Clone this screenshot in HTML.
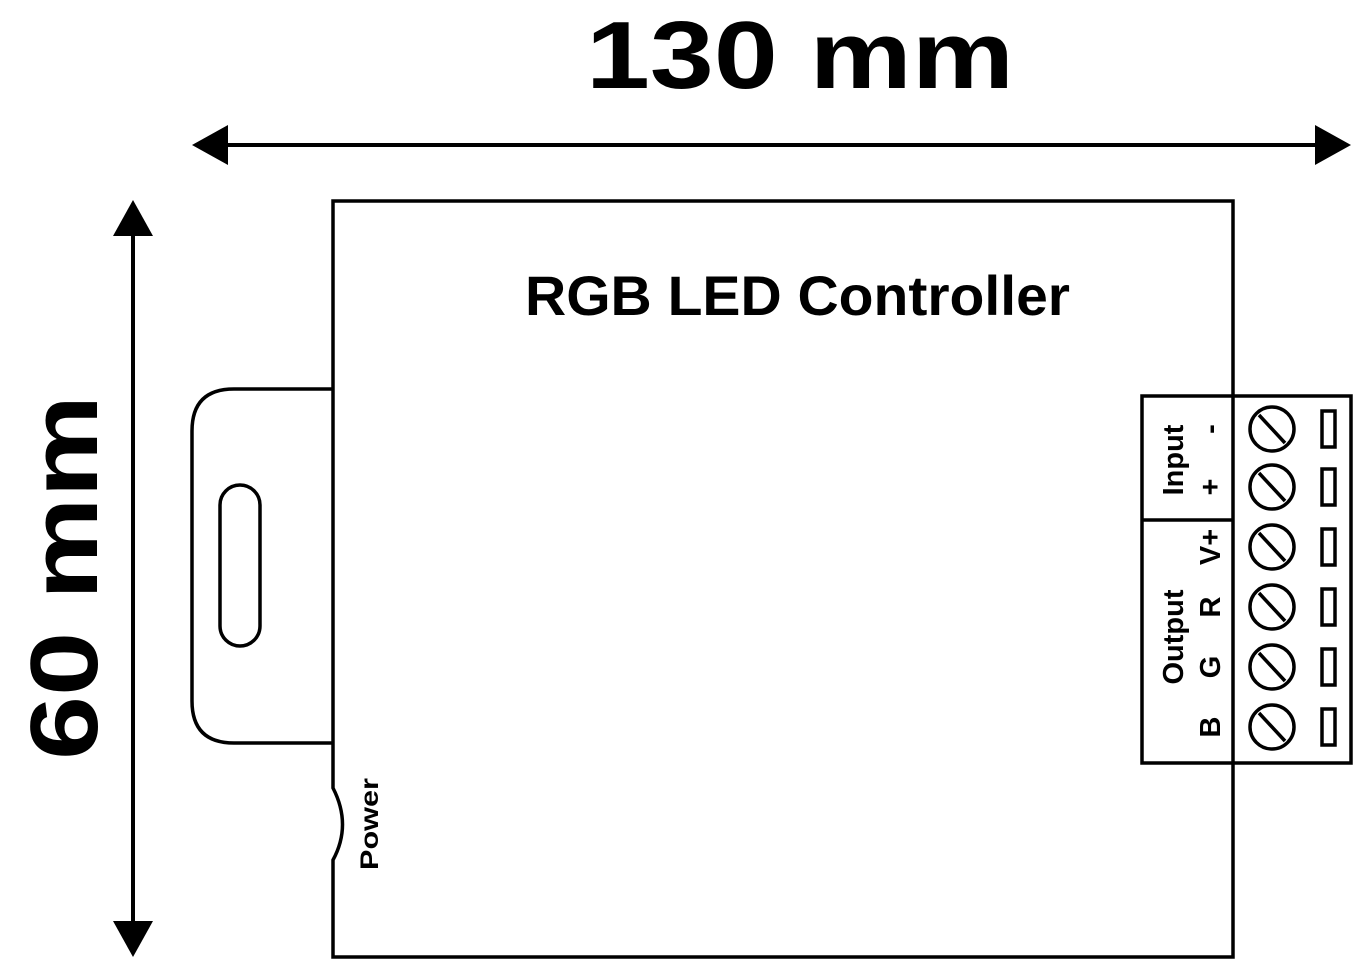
<!DOCTYPE html>
<html><head><style>
html,body{margin:0;padding:0;background:#fff;}
svg{display:block;}
text{font-family:"Liberation Sans",sans-serif;font-weight:bold;fill:#000;}
</style></head><body>
<svg width="1363" height="970" viewBox="0 0 1363 970" xmlns="http://www.w3.org/2000/svg">
<g stroke="#000" stroke-width="3.5" fill="none">
<line x1="220" y1="145" x2="1320" y2="145" stroke-width="4"/>
<line x1="133" y1="232" x2="133" y2="925" stroke-width="4"/>
<path d="M333 201 H1233 V957 H333 V860 Q352 825 333 788 V201 Z"/>
<path d="M333 389 H234 Q192 389 192 431 V701 Q192 743 234 743 H333"/>
<rect x="220" y="485" width="40" height="161" rx="20"/>
<rect x="1142" y="396" width="209" height="367"/>
<line x1="1142" y1="520" x2="1233" y2="520"/>
</g>
<polygon points="192,145 228,125 228,165" fill="#000"/>
<polygon points="1351,145 1315,125 1315,165" fill="#000"/>
<polygon points="133,200 113,236 153,236" fill="#000"/>
<polygon points="133,957 113,921 153,921" fill="#000"/>
<g stroke="#000" stroke-width="3.5" fill="none">
<circle cx="1272" cy="429" r="22"/><line x1="1259" y1="415" x2="1285" y2="443"/>
<circle cx="1272" cy="487" r="22"/><line x1="1259" y1="473" x2="1285" y2="501"/>
<circle cx="1272" cy="547" r="22"/><line x1="1259" y1="533" x2="1285" y2="561"/>
<circle cx="1272" cy="607" r="22"/><line x1="1259" y1="593" x2="1285" y2="621"/>
<circle cx="1272" cy="667" r="22"/><line x1="1259" y1="653" x2="1285" y2="681"/>
<circle cx="1272" cy="727" r="22"/><line x1="1259" y1="713" x2="1285" y2="741"/>
<rect x="1322" y="411" width="13" height="36"/>
<rect x="1322" y="469" width="13" height="36"/>
<rect x="1322" y="529" width="13" height="36"/>
<rect x="1322" y="589" width="13" height="36"/>
<rect x="1322" y="649" width="13" height="36"/>
<rect x="1322" y="709" width="13" height="36"/>
</g>
<text x="586" y="88" font-size="96" textLength="428" lengthAdjust="spacingAndGlyphs">130 mm</text>
<text transform="translate(97,760) rotate(-90)" font-size="96" textLength="365" lengthAdjust="spacingAndGlyphs">60 mm</text>
<text x="525" y="315" font-size="56" textLength="545" lengthAdjust="spacingAndGlyphs">RGB LED Controller</text>
<text transform="translate(378,870) rotate(-90)" font-size="25" textLength="92" lengthAdjust="spacingAndGlyphs">Power</text>
<g font-size="29" text-anchor="middle">
<text transform="translate(1183,460) rotate(-90)">Input</text>
<text transform="translate(1183,637) rotate(-90)">Output</text>
<text transform="translate(1220,429) rotate(-90)">-</text>
<text transform="translate(1220,487) rotate(-90)">+</text>
<text transform="translate(1220,547) rotate(-90)">V+</text>
<text transform="translate(1220,607) rotate(-90)">R</text>
<text transform="translate(1220,667) rotate(-90)">G</text>
<text transform="translate(1220,727) rotate(-90)">B</text>
</g>
</svg>
</body></html>
